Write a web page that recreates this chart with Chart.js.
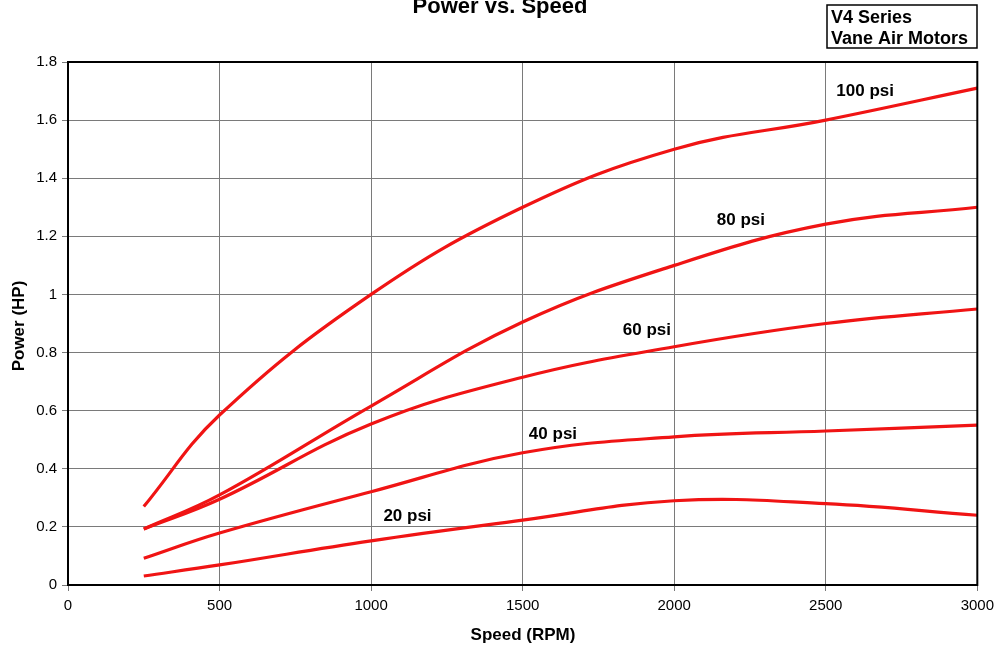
<!DOCTYPE html>
<html>
<head>
<meta charset="utf-8">
<script src="https://cdn.jsdelivr.net/npm/chart.js@4.4.1/dist/chart.umd.min.js"></script>
<style>
    body { margin: 0; background: #ffffff; }
    #wrap { width: 1000px; height: 652px; }
</style>
</head>
<body>
<div id="wrap"><canvas id="powerChart" width="1000" height="652"></canvas></div>
<script>
/* ===========================================
   DATA
=========================================== */

const speeds = [250, 500, 1000, 1500, 2000, 2500, 3000];

const psi100 = [0.27, 0.585, 1.0, 1.30, 1.50, 1.60, 1.71];
const psi80 = [0.193, 0.31, 0.616, 0.905, 1.10, 1.242, 1.30];
const psi60 = [0.193, 0.295, 0.554, 0.715, 0.82, 0.90, 0.95];
const psi40 = [0.092, 0.179, 0.321, 0.455, 0.51, 0.53, 0.55];
const psi20 = [0.031, 0.069, 0.152, 0.223, 0.29, 0.28, 0.24];

const seriesNames = ["100 psi", "80 psi", "60 psi", "40 psi", "20 psi"];

// where each curve label sits (speed, power)
const labelSpeed = [2630, 2220, 1910, 1600, 1120];
const labelPower = [1.70, 1.255, 0.875, 0.52, 0.235];

const xTicks = [0, 500, 1000, 1500, 2000, 2500, 3000];

/* ===========================================
   DEFAULTS
=========================================== */

Chart.defaults.font.family = "'Liberation Sans', Arial, sans-serif";
Chart.defaults.color = "#000000";

function points(values) {
    return speeds.map((s, i) => ({ x: s, y: values[i] }));
}

function curve(label, values) {
    return {
        label: label,
        data: points(values),
        borderColor: "#f01414",
        borderWidth: 3.2,
        pointRadius: 0,
        tension: 0.4,
        fill: false
    };
}

/* ===========================================
   TEXT + FRAME PLUGIN
=========================================== */

const decorations = {
    id: "decorations",
    afterDraw(chart) {
        const ctx = chart.ctx;
        const area = chart.chartArea;
        const xs = chart.scales.x;
        const ys = chart.scales.y;

        ctx.save();

        // plot frame
        ctx.strokeStyle = "#000000";
        ctx.lineWidth = 2;
        ctx.strokeRect(area.left, area.top, area.right - area.left, area.bottom - area.top);

        // title, cut at the top edge
        ctx.fillStyle = "#000000";
        ctx.textAlign = "center";
        ctx.textBaseline = "alphabetic";
        ctx.font = "bold 22px 'Liberation Sans', Arial, sans-serif";
        ctx.fillText("Power vs. Speed", 500, 13);

        // series box
        ctx.lineWidth = 1.5;
        ctx.strokeRect(827, 5, 150, 43);
        ctx.textAlign = "left";
        ctx.font = "bold 18px 'Liberation Sans', Arial, sans-serif";
        ctx.fillText("V4 Series", 831, 23);
        ctx.fillText("Vane Air Motors", 831, 44);

        // axis titles
        ctx.font = "bold 17px 'Liberation Sans', Arial, sans-serif";
        ctx.textAlign = "center";
        ctx.fillText("Speed (RPM)", 523, 640);

        ctx.save();
        ctx.translate(24, 326);
        ctx.rotate(-Math.PI / 2);
        ctx.fillText("Power (HP)", 0, 0);
        ctx.restore();

        // curve labels
        ctx.font = "bold 17px 'Liberation Sans', Arial, sans-serif";
        ctx.textBaseline = "middle";
        seriesNames.forEach((name, i) => {
            ctx.fillText(name, xs.getPixelForValue(labelSpeed[i]), ys.getPixelForValue(labelPower[i]));
        });

        ctx.restore();
    }
};

/* ===========================================
   CHART
=========================================== */

const powerChart = new Chart(

    document.getElementById("powerChart"),

    {
        type: "line",

        data: {
            datasets: [
                curve(seriesNames[0], psi100),
                curve(seriesNames[1], psi80),
                curve(seriesNames[2], psi60),
                curve(seriesNames[3], psi40),
                curve(seriesNames[4], psi20)
            ]
        },

        options: {
            responsive: false,
            animation: false,
            layout: {
                padding: { top: 62, right: 22, left: 0, bottom: 0 }
            },
            plugins: {
                legend: { display: false },
                tooltip: { enabled: false }
            },
            scales: {
                x: {
                    type: "linear",
                    min: 0,
                    max: 3000,
                    afterBuildTicks(scale) {
                        scale.ticks = xTicks.map(v => ({ value: v }));
                    },
                    afterFit(scale) {
                        scale.height = 67;
                    },
                    grid: {
                        color: "#7a7a7a",
                        lineWidth: 1,
                        tickLength: 6
                    },
                    border: { color: "#000000", width: 2 },
                    ticks: {
                        font: { size: 15 },
                        padding: 6,
                        maxRotation: 0,
                        callback: v => String(v)
                    }
                },
                y: {
                    min: 0,
                    max: 1.8,
                    afterFit(scale) {
                        scale.width = 68;
                    },
                    grid: {
                        color: "#7a7a7a",
                        lineWidth: 1,
                        tickLength: 6
                    },
                    border: { color: "#000000", width: 2 },
                    ticks: {
                        stepSize: 0.2,
                        font: { size: 15 },
                        padding: 5,
                        callback: v => String(Math.round(v * 10) / 10)
                    }
                }
            }
        },

        plugins: [decorations]
    }

);
</script>
</body>
</html>
